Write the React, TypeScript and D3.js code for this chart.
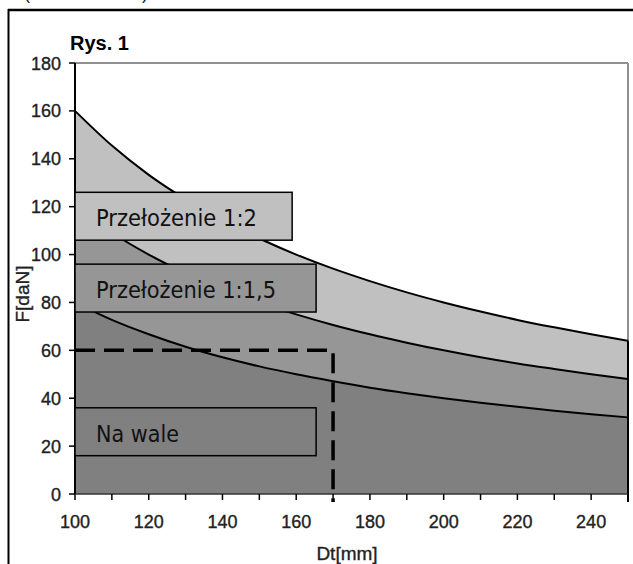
import React from "react";
import * as d3 from "d3";

const dtValues = [100, 110, 120, 130, 140, 150, 160, 170, 180, 190, 200, 210, 220, 230, 240, 250];
const ratio12 = [160, 145.5, 133.3, 123.1, 114.3, 106.7, 100, 94.1, 88.9, 84.2, 80, 76.2, 72.7, 69.6, 66.7, 64];
const ratio115 = [120, 109.1, 100, 92.3, 85.7, 80, 75, 70.6, 66.7, 63.2, 60, 57.1, 54.5, 52.2, 50, 48];
const onShaft = [80, 72.7, 66.7, 61.5, 57.1, 53.3, 50, 47.1, 44.4, 42.1, 40, 38.1, 36.4, 34.8, 33.3, 32];
const seriesNames = ["Przełożenie 1:2", "Przełożenie 1:1,5", "Na wale"];
const seriesColors = ["#c0c0c0", "#969696", "#808080"];
const labelBoxes = [
  { name: "Przełożenie 1:2", top: 126, bottom: 106, xEnd: 158.9 },
  { name: "Przełożenie 1:1,5", top: 96, bottom: 76, xEnd: 165.4 },
  { name: "Na wale", top: 36, bottom: 16, xEnd: 165.4 },
];
const yTicks = [0, 20, 40, 60, 80, 100, 120, 140, 160, 180];
const xTickLabels = [100, 120, 140, 160, 180, 200, 220, 240];
const xMinorTicks = [100, 110, 120, 130, 140, 150, 160, 170, 180, 190, 200, 210, 220, 230, 240, 250];
const limitDt = 170;
const limitF = 60;

export default function App() {
  const x = d3.scaleLinear().domain([100, 250]).range([75, 628]);
  const y = d3.scaleLinear().domain([0, 180]).range([494, 63]);
  const series = [ratio12, ratio115, onShaft];
  const area = d3
    .area<number>()
    .x((_, i) => x(dtValues[i]))
    .y0(y(0))
    .y1((d) => y(d))
    .curve(d3.curveMonotoneX);
  const line = d3
    .line<number>()
    .x((_, i) => x(dtValues[i]))
    .y((d) => y(d))
    .curve(d3.curveMonotoneX);
  const font = "'Liberation Sans', Arial, sans-serif";
  const boxFont = "'DejaVu Sans', Verdana, sans-serif";
  const textLens = [161, 180, 83];
  const heavy = { stroke: "#222", strokeWidth: 0.35 };

  return (
    <svg width={633} height={564} style={{ position: "absolute", left: 0, top: 0 }}>
      <rect x={0} y={0} width={633} height={564} fill="#fff" />
      {/* clipped parentheses at very top (cut off in the source too) */}
      <text x={24} y={-1} fontFamily={font} fontSize={18} fill="#222">(</text>
      <text x={142} y={-1} fontFamily={font} fontSize={18} fill="#222">)</text>
      {/* outer frame */}
      <line x1={8} x2={633} y1={10} y2={10} stroke="#000" strokeWidth={2.5} />
      <line x1={8.5} x2={8.5} y1={9} y2={564} stroke="#000" strokeWidth={2} />

      {/* plot area border */}
      <line x1={75} x2={628} y1={63} y2={63} stroke="#909090" strokeWidth={2} />
      <line x1={628} x2={628} y1={63} y2={494} stroke="#909090" strokeWidth={2} />

      {/* areas */}
      {series.map((s, i) => (
        <path key={"a" + i} d={area(s) || ""} fill={seriesColors[i]} />
      ))}
      {series.map((s, i) => (
        <path key={"l" + i} d={line(s) || ""} fill="none" stroke="#000" strokeWidth={2} />
      ))}
      <line x1={x(250)} x2={x(250)} y1={y(ratio12[ratio12.length - 1])} y2={y(0) + 8} stroke="#000" strokeWidth={2} />

      {/* axes */}
      <line x1={75} x2={75} y1={63} y2={494} stroke="#000" strokeWidth={2} />
      <line x1={75} x2={628} y1={494} y2={494} stroke="#333" strokeWidth={1.5} />
      {yTicks.map((t) => (
        <g key={"y" + t}>
          <line x1={69} x2={75} y1={y(t)} y2={y(t)} stroke="#000" strokeWidth={1.5} />
          <text x={61} y={y(t) + 6.5} textAnchor="end" fontFamily={font} fontSize={18} fill="#222" {...heavy}>
            {t}
          </text>
        </g>
      ))}
      {xMinorTicks.map((t) => (
        <line key={"xt" + t} x1={x(t)} x2={x(t)} y1={494} y2={500} stroke="#000" strokeWidth={1.5} />
      ))}
      {xTickLabels.map((t) => (
        <text key={"xl" + t} x={x(t)} y={528} textAnchor="middle" fontFamily={font} fontSize={18} fill="#222" {...heavy}>
          {t}
        </text>
      ))}

      {/* limit dashed line */}
      <path
        d={`M${x(100)},${y(limitF)}H${x(limitDt)}V${y(0) + 8}`}
        fill="none"
        stroke="#000"
        strokeWidth={3.5}
        strokeDasharray="20 9"
      />

      {/* label boxes */}
      {labelBoxes.map((b, i) => (
        <g key={"b" + i}>
          <rect
            x={x(100)}
            y={y(b.top)}
            width={x(b.xEnd) - x(100)}
            height={y(b.bottom) - y(b.top)}
            fill={seriesColors[i]}
            stroke="#000"
            strokeWidth={1.5}
          />
          <text
            x={96}
            y={(y(b.top) + y(b.bottom)) / 2 + 10}
            fontFamily={boxFont}
            fontSize={23}
            fill="#111"
            textLength={textLens[i]}
            lengthAdjust="spacingAndGlyphs"
          >
            {seriesNames[i]}
          </text>
        </g>
      ))}

      {/* titles */}
      <text x={70} y={50} fontFamily={font} fontSize={20} fontWeight="bold" fill="#000">Rys. 1</text>
      <text x={347} y={560} textAnchor="middle" fontFamily={font} fontSize={19} fill="#222" {...heavy}>Dt[mm]</text>
      <text
        transform={`translate(29,294) rotate(-90)`}
        textAnchor="middle"
        fontFamily={font}
        fontSize={19}
        fill="#222"
        {...heavy}
      >
        F[daN]
      </text>
    </svg>
  );
}
